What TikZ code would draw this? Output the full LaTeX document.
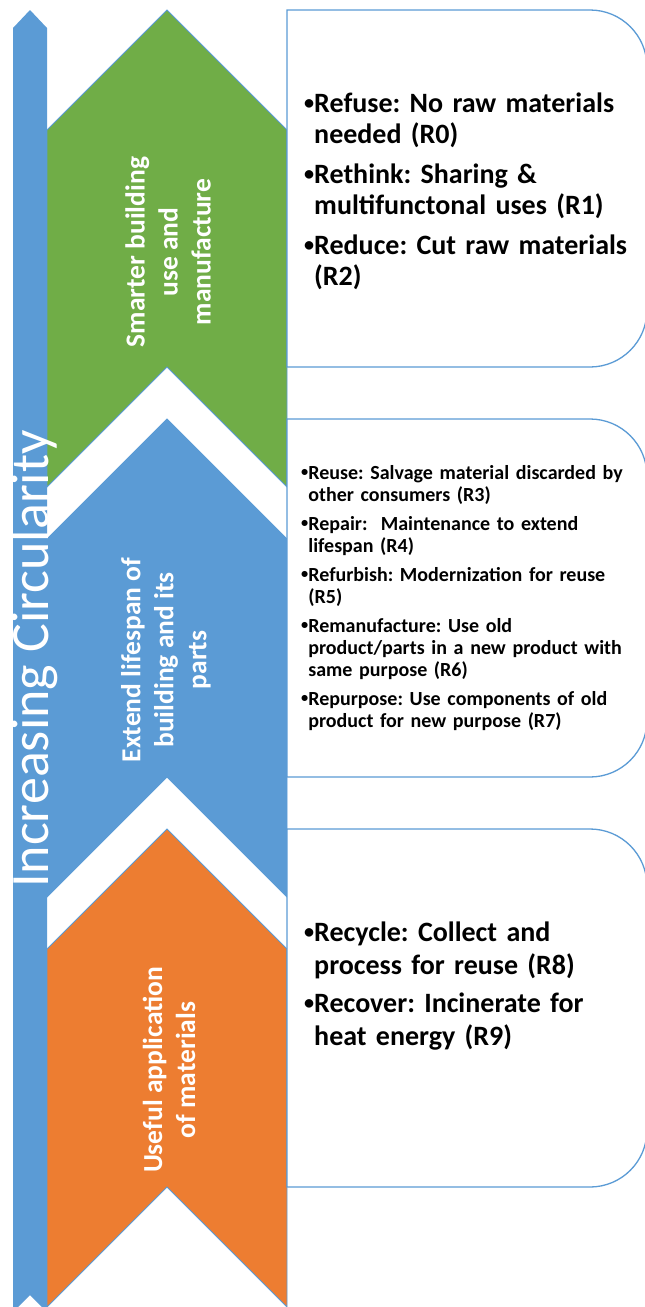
\documentclass[tikz,border=0pt]{standalone}
\usepackage{fontspec}
\setmainfont{Carlito}
\frenchspacing
\definecolor{cgreen}{HTML}{70AD47}
\definecolor{cblue}{HTML}{5B9BD5}
\definecolor{corange}{HTML}{ED7D31}
\definecolor{cline}{HTML}{5B9BD5}
\newlength\bulw
% small bullet, raised to the middle of the lower-case letters
\newcommand\bul{\raisebox{0.12em}{\scalebox{0.72}{•}}}
% bulleted paragraph with the continuation lines hanging under the text
\newcommand\ritem[1]{\settowidth\bulw{\bul}\hangindent=\bulw\hangafter=1\noindent\bul#1\par}
\begin{document}
\begin{tikzpicture}[x=1pt,y=-1pt,
  chev/.style={draw=cline, line width=0.8pt, line join=miter},
  lbl/.style={text=white, font=\bfseries\fontsize{27.5}{33}\selectfont, align=center, rotate=90, inner sep=0},
  panel/.style={draw=cline, line width=1.3pt, fill=white},
  txt/.style={anchor=north west, inner sep=0, text width=345pt, align=left}]
\useasboundingbox (0,0) rectangle (645,1307);
\clip (0,0) rectangle (645,1307);

% upward arrow on the left
\fill[cblue] (13,28) -- (30,10) -- (47,28) -- (47,1312) -- (30,1295) -- (13,1312) -- cycle;

% the three chevrons
\filldraw[chev, fill=cgreen] (47,130) -- (167,10) -- (287,130) -- (287,487) -- (167,367) -- (47,487) -- cycle;
\filldraw[chev, fill=cblue] (47,539) -- (167,419) -- (287,539) -- (287,897) -- (167,777) -- (47,897) -- cycle;
\filldraw[chev, fill=corange] (47,949) -- (167,829) -- (287,949) -- (287,1307) -- (167,1187) -- (47,1307) -- cycle;

% text panels with rounded right corners
\foreach \t/\b in {10/367, 419/777, 829/1187}{
  \filldraw[panel] (287,\t) -- (590,\t) arc[start angle=-90, end angle=0, radius=57]
    -- (647,\b-57) arc[start angle=0, end angle=90, radius=57] -- (287,\b) -- cycle;
}

% chevron labels
\node[lbl] (g) at (168,252) {Smarter building\\use and\\manufacture};
\node[lbl] (b) at (166,660) {Extend lifespan of\\building and its\\parts};
\node[lbl] (o) at (169,1070) {Useful application\\of materials};

% arrow label
\node[text=white, rotate=90, anchor=base, inner sep=0, font=\fontsize{54}{60}\selectfont] (title) at (48,659) {Increasing Circularity};

% panel texts
\node[txt, font=\bfseries\fontsize{28}{31}\selectfont] (t1) at (304,93) {\setlength\parskip{9pt}%
\ritem{Refuse: No raw materials\newline needed (R0)}
\ritem{Rethink: Sharing \&\newline multifunctonal uses (R1)}
\ritem{Reduce: Cut raw materials\newline (R2)}};

\node[txt, font=\bfseries\fontsize{20}{22}\selectfont] (t2) at (301,465) {\setlength\parskip{7pt}%
\ritem{Reuse: Salvage material discarded by\newline other consumers (R3)}
\ritem{Repair:\ \ Maintenance to extend\newline lifespan (R4)}
\ritem{Refurbish: Modernization for reuse\newline (R5)}
\ritem{Remanufacture: Use old\newline product/parts in a new product with\newline same purpose (R6)}
\ritem{Repurpose: Use components of old\newline product for new purpose (R7)}};

\node[txt, font=\bfseries\fontsize{28}{33}\selectfont] (t3) at (304,922) {\setlength\parskip{5pt}%
\ritem{Recycle: Collect and\newline process for reuse (R8)}
\ritem{Recover: Incinerate for\newline heat energy (R9)}};
\end{tikzpicture}
\end{document}
